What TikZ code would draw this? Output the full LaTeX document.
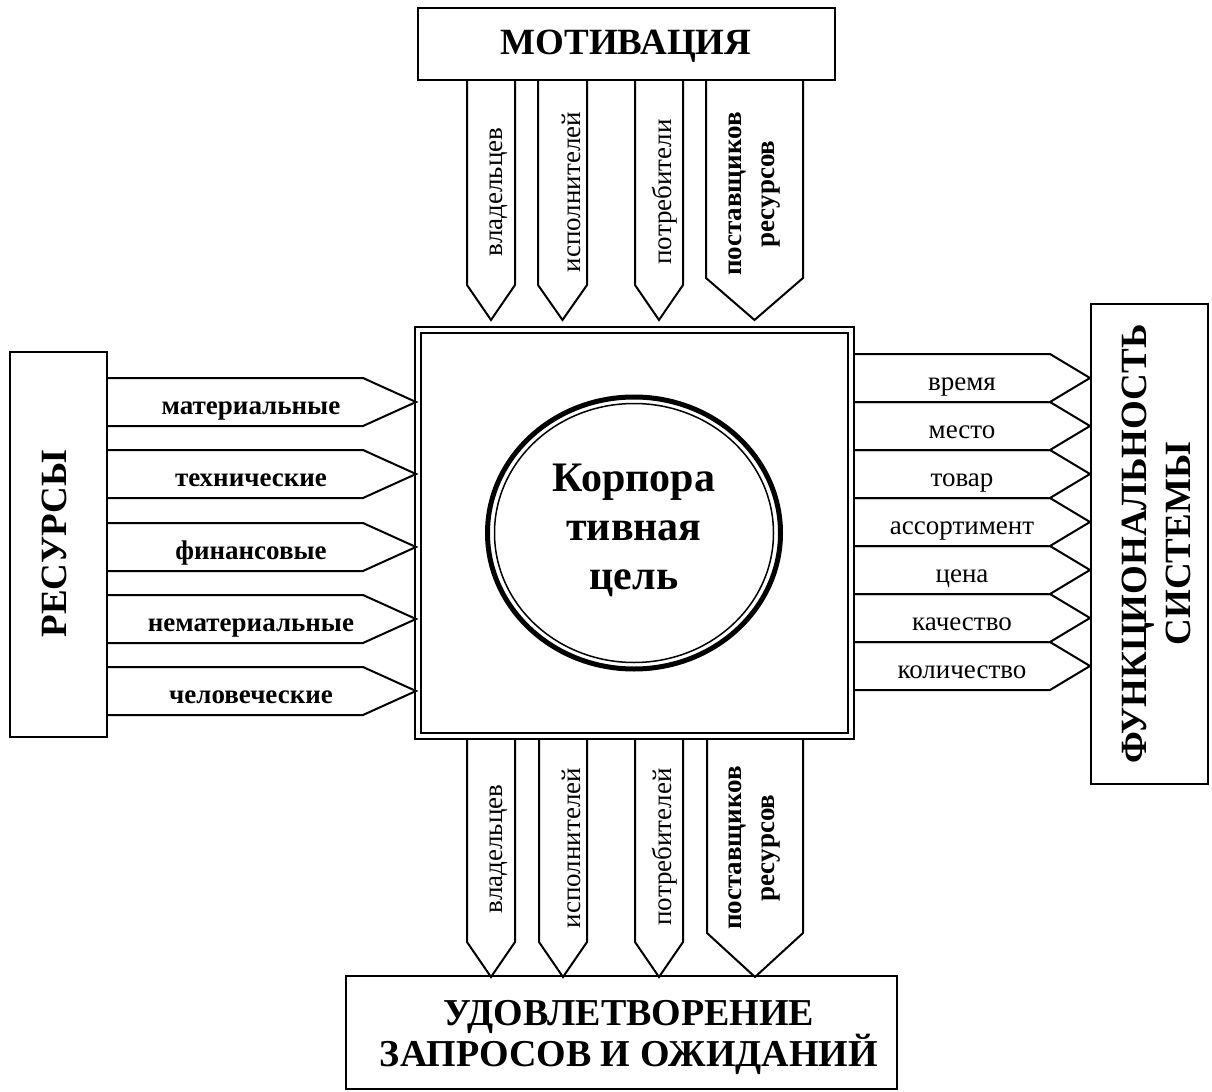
\documentclass[tikz,border=0pt]{standalone}
\usepackage{fontspec}
\setmainfont{Liberation Serif}

\tikzset{
  box/.style={draw,line width=1pt},
  arr/.style={draw,line width=1pt,line join=miter},
  lbl/.style={font=\fontsize{13.5}{16.5}\selectfont,align=center},
  blbl/.style={font=\fontsize{13.5}{16.5}\selectfont\bfseries,align=center},
  ttl/.style={font=\fontsize{18.5}{22}\selectfont\bfseries,align=center},
}

\begin{document}
\begin{tikzpicture}[x=0.5pt,y=-0.5pt]
\useasboundingbox (0,0) rectangle (1212,1092);

% outer boxes
\draw[box] (418,8) rectangle (835,80);
\node[ttl] (motiv) at (626,46) {МОТИВАЦИЯ};
\draw[box] (10,352) rectangle (107,737);
\node[ttl,rotate=90] (resurs) at (54,544) {РЕСУРСЫ};
\draw[box] (1091,304) rectangle (1208,784);
\node[ttl,rotate=90] (funk) at (1156,544) {ФУНКЦИОНАЛЬНОСТЬ\\СИСТЕМЫ};
\draw[box] (346,976) rectangle (897,1089);
\node[ttl,font=\fontsize{19}{20.5}\selectfont\bfseries] (udov) at (629,1037) {УДОВЛЕТВОРЕНИЕ\\ЗАПРОСОВ И ОЖИДАНИЙ};

% centre
\draw[box] (415,327) rectangle (854,739);
\draw[box] (421,333) rectangle (848,733);
\draw[line width=2.5pt] (634,533) ellipse (146.5 and 136);
\draw[line width=0.75pt] (634,533) ellipse (139.5 and 129.5);
\node[font=\fontsize{21}{24.5}\selectfont\bfseries,align=center] (goal) at (634,530) {Корпора\\тивная\\цель};

% top arrows
\draw[arr] (467,80) -- (467,285) -- (491,320) -- (515,285) -- (515,80);
\draw[arr] (538,80) -- (538,285) -- (562.5,320) -- (587,285) -- (587,80);
\draw[arr] (635,80) -- (635,285) -- (659,320) -- (683,285) -- (683,80);
\draw[arr] (706,80) -- (706,278) -- (754.5,320) -- (803,278) -- (803,80);
\node[lbl,rotate=90] (t1) at (499,192) {владельцев};
\node[lbl,rotate=90] (t2) at (571,192) {исполнителей};
\node[lbl,rotate=90] (t3) at (665,192) {потребители};
\node[blbl,rotate=90] (t4) at (755,194) {поставщиков\\ресурсов};

% bottom arrows
\draw[arr] (467,739) -- (467,942) -- (491,977) -- (515,942) -- (515,739);
\draw[arr] (539,739) -- (539,942) -- (563,977) -- (587,942) -- (587,739);
\draw[arr] (635,739) -- (635,942) -- (659,977) -- (683,942) -- (683,739);
\draw[arr] (707,739) -- (707,933) -- (755,977) -- (803,933) -- (803,739);
\node[lbl,rotate=90] (b1) at (499,849) {владельцев};
\node[lbl,rotate=90] (b2) at (571,848) {исполнителей};
\node[lbl,rotate=90] (b3) at (665,847) {потребителей};
\node[blbl,rotate=90] (b4) at (755,848) {поставщиков\\ресурсов};

% left arrows
\draw[arr] (107,378) -- (363,378) -- (416,402) -- (363,426) -- (107,426);
\draw[arr] (107,450) -- (363,450) -- (416,474) -- (363,498) -- (107,498);
\draw[arr] (107,523) -- (363,523) -- (416,547) -- (363,571) -- (107,571);
\draw[arr] (107,595) -- (363,595) -- (416,619) -- (363,643) -- (107,643);
\draw[arr] (107,667) -- (363,667) -- (416,691) -- (363,715) -- (107,715);
\node[blbl,anchor=base] (l1) at (251,414) {материальные};
\node[blbl,anchor=base] (l2) at (251,486) {технические};
\node[blbl,anchor=base] (l3) at (251,559) {финансовые};
\node[blbl,anchor=base] (l4) at (251,631) {нематериальные};
\node[blbl,anchor=base] (l5) at (251,703) {человеческие};

% right arrows
\draw[arr] (854,354) -- (1050,354) -- (1090,378) -- (1050,402) -- (854,402);
\draw[arr] (854,402) -- (1050,402) -- (1090,426) -- (1050,450) -- (854,450);
\draw[arr] (854,450) -- (1050,450) -- (1090,474) -- (1050,498) -- (854,498);
\draw[arr] (854,498) -- (1050,498) -- (1090,522) -- (1050,546) -- (854,546);
\draw[arr] (854,546) -- (1050,546) -- (1090,570) -- (1050,594) -- (854,594);
\draw[arr] (854,594) -- (1050,594) -- (1090,618) -- (1050,642) -- (854,642);
\draw[arr] (854,642) -- (1050,642) -- (1090,666) -- (1050,690) -- (854,690);
\node[lbl,anchor=base] (r1) at (962,390) {время};
\node[lbl,anchor=base] (r2) at (962,438) {место};
\node[lbl,anchor=base] (r3) at (962,486) {товар};
\node[lbl,anchor=base] (r4) at (962,534) {ассортимент};
\node[lbl,anchor=base] (r5) at (962,582) {цена};
\node[lbl,anchor=base] (r6) at (962,630) {качество};
\node[lbl,anchor=base] (r7) at (962,678) {количество};
\end{tikzpicture}
\end{document}
